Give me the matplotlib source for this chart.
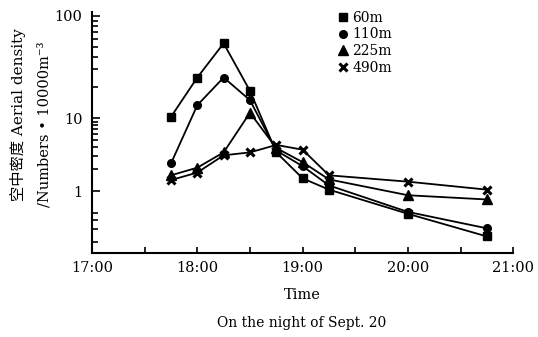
import numpy as np
import matplotlib
matplotlib.use("Agg")
import matplotlib.pyplot as plt
from matplotlib.ticker import FixedLocator, NullFormatter
from matplotlib.lines import Line2D

# time of night (hours) and aerial density for each height
times = [17.75, 18.0, 18.25, 18.5, 18.75, 19.0, 19.25, 20.0, 20.75]
d60 = [10.3, 25, 54, 18.5, 3.4, 1.5, 1.05, 0.49, 0.24]
d110 = [2.4, 13.4, 25, 15, 3.6, 2.2, 1.2, 0.52, 0.31]
d225 = [1.65, 2.1, 3.4, 11.3, 3.9, 2.5, 1.45, 0.88, 0.77]
d490 = [1.42, 1.8, 3.1, 3.4, 4.3, 3.7, 1.65, 1.35, 1.05]

labels = ["60m", "110m", "225m", "490m"]
hour_ticks = [17, 18, 19, 20, 21]
hour_labels = ["17:00", "18:00", "19:00", "20:00", "21:00"]

plt.rcParams["font.family"] = ["DejaVu Serif", "Noto Sans CJK SC", "DejaVu Sans"]


# the printed axis has a wider upper decade than the lower ones
def fwd(v):
    l = np.log10(np.clip(np.asarray(v, dtype=float), 1e-6, None))
    return np.where(l <= 1, l, 1 + (l - 1) * 1.4)


def inv(t):
    t = np.asarray(t, dtype=float)
    return np.where(t <= 1, 10.0 ** t, 10.0 ** (1 + (t - 1) / 1.4))


fig = plt.figure(figsize=(5.38, 3.37), dpi=100)
ax = fig.add_axes([0.171, 0.249, 0.783, 0.715])
ax.set_yscale("function", functions=(fwd, inv))

styles = [("s", 6), ("o", 5.5), ("^", 6.5), ("x", 6)]
for vals, (m, ms) in zip([d60, d110, d225, d490], styles):
    ax.plot(times, vals, color="black", lw=1.3, marker=m, ms=ms, mew=2.2 if m == "x" else 1)

ax.set_xlim(17, 21)
ax.set_ylim(0.142, 109)

ax.set_xticks(hour_ticks)
ax.set_xticklabels(hour_labels, fontsize=10.5)
ax.xaxis.set_minor_locator(FixedLocator([17.5, 18.5, 19.5, 20.5]))

ax.yaxis.set_major_locator(FixedLocator([1, 10, 100]))
ax.yaxis.set_minor_locator(FixedLocator([0.2, 0.3, 0.4, 0.5] + list(range(2, 10)) + list(range(20, 100, 10))))
ax.yaxis.set_minor_formatter(NullFormatter())
ax.set_yticklabels(["1", "10", "100"], fontsize=10.5)

ax.tick_params(which="both", direction="in", width=1.2, color="black")
ax.tick_params(axis="y", which="major", length=6, pad=7)
ax.tick_params(axis="y", which="minor", length=4)
ax.tick_params(axis="x", which="both", length=4, pad=6)

for s in ["top", "right"]:
    ax.spines[s].set_visible(False)
for s in ["left", "bottom"]:
    ax.spines[s].set_linewidth(1.5)

handles = [Line2D([], [], color="black", ls="none", marker=m, ms=ms, mew=2.2 if m == "x" else 1)
           for m, ms in styles]
ax.legend(handles, labels, loc="upper left", bbox_to_anchor=(0.565, 1.035), frameon=False,
          fontsize=10, handlelength=0.8, handletextpad=0.3, labelspacing=0.2, borderpad=0)

ax.set_xlabel("Time", fontsize=10.5, labelpad=9)
fig.text(0.56, 0.03, "On the night of Sept. 20", ha="center", fontsize=10)

fig.text(0.033, 0.66, "空中密度 Aerial density", rotation=90, ha="center", va="center", fontsize=11)
fig.text(0.083, 0.63, "/Numbers • 10000m⁻³", rotation=90, ha="center", va="center", fontsize=10.5)

fig.savefig("out.png", dpi=100)
